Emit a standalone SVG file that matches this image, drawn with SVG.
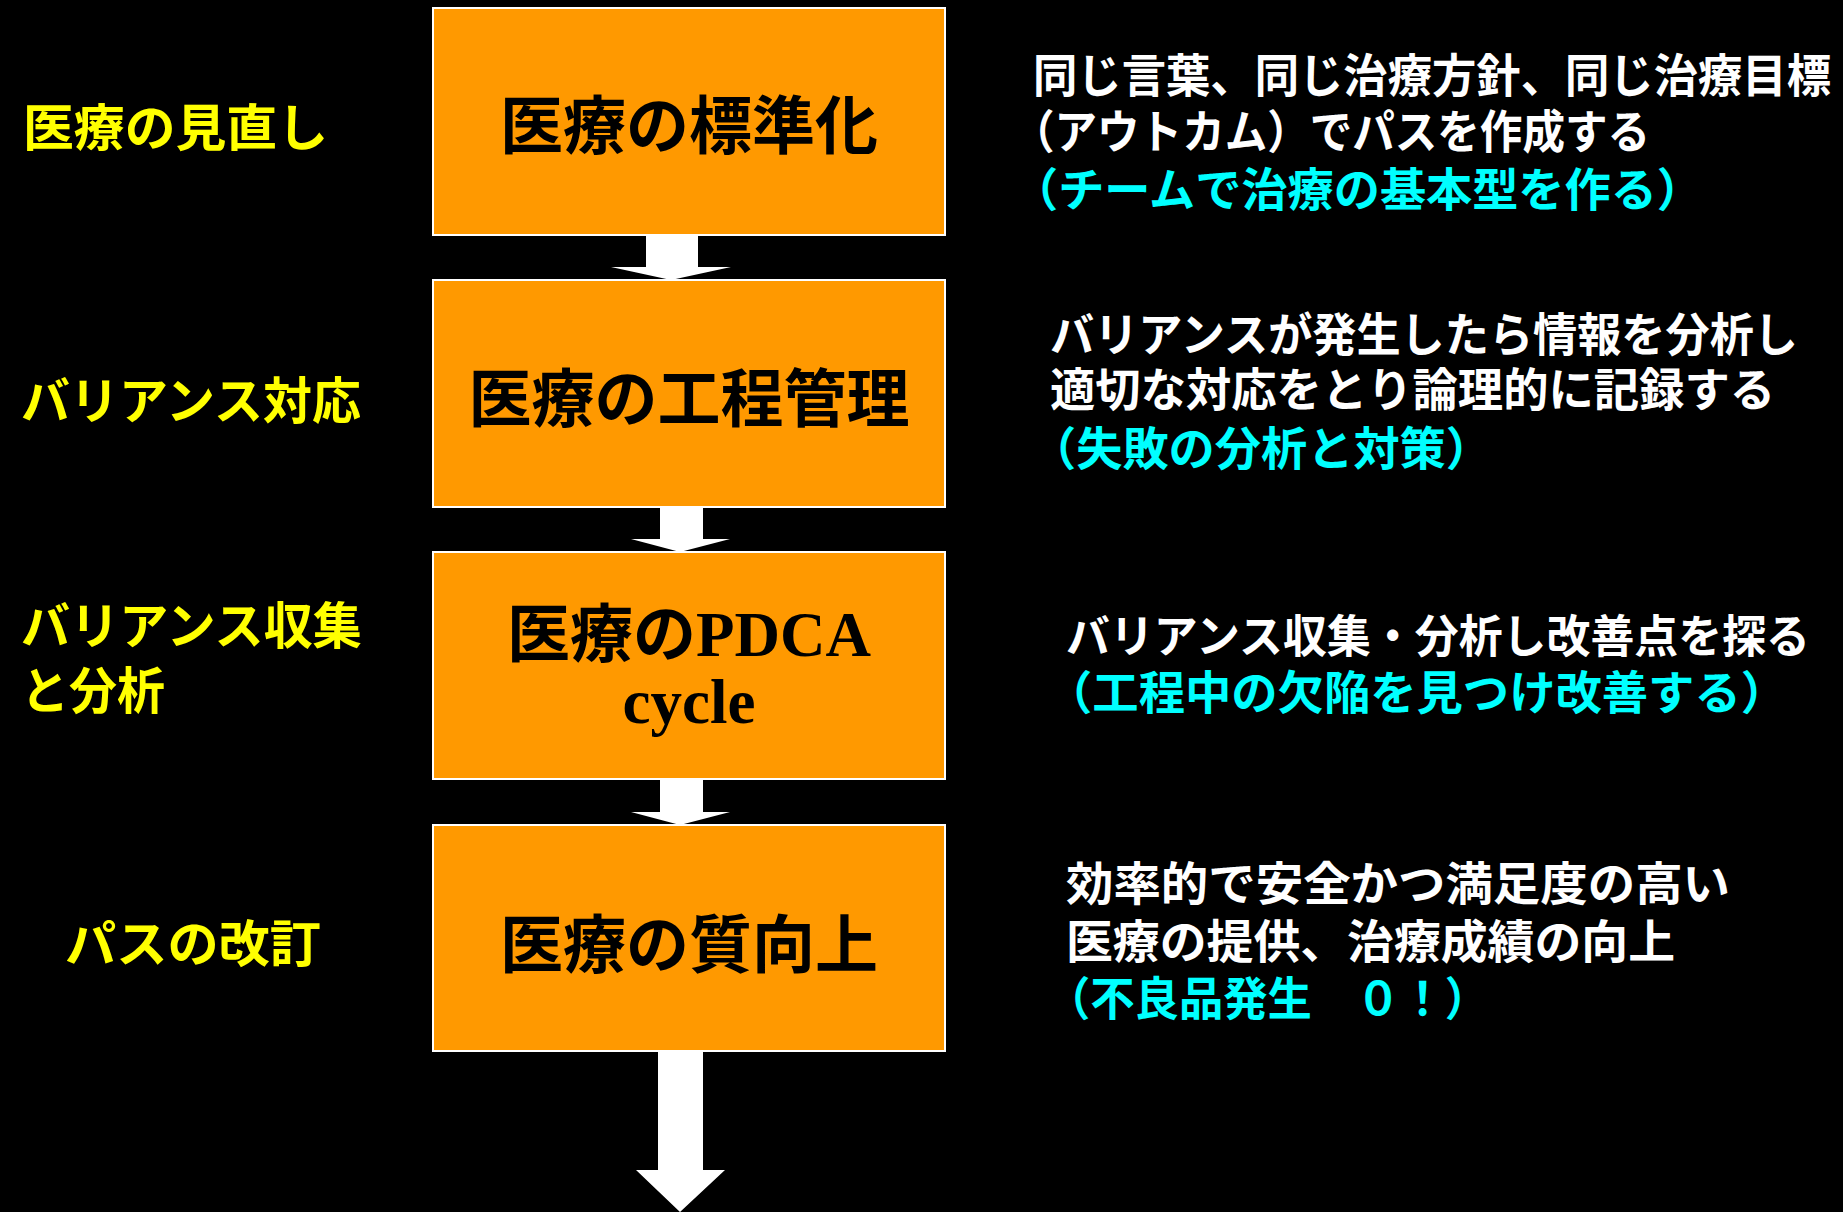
<svg xmlns="http://www.w3.org/2000/svg" width="1843" height="1212" viewBox="0 0 1843 1212">
<style>
.box{fill:#FF9900;stroke:#FFFFFF;stroke-width:2}
.bt{font-family:"Liberation Serif","Noto Sans CJK JP",serif;font-weight:bold;font-size:63px;fill:#000;text-anchor:middle}
.lt{font-family:"Noto Sans CJK JP",sans-serif;font-weight:bold;font-size:50px;fill:#FFFF00}
.rt{font-family:"Noto Sans CJK JP",sans-serif;font-weight:bold;font-size:46px;fill:#FFFFFF}
.ct{fill:#00FFFF}
.arr{fill:#FFFFFF}
</style>
<rect width="1843" height="1212" fill="#000"/>
<g id="connectors">
<polygon class="arr" points="646,235 698,235 698,267 731,267 671,280 611,267 646,267"/>
<polygon class="arr" points="660,507 703,507 703,539 730,539 680,552 631,539 660,539"/>
<polygon class="arr" points="660,779 703,779 703,812 730,812 680,825 631,812 660,812"/>
<polygon class="arr" points="658,1051 703,1051 703,1170 725,1170 680,1212 636,1170 658,1170"/>
</g>
<g id="node1">
<rect class="box" x="433" y="8" width="512" height="227"/>
<text class="bt" x="689" y="148">医療の標準化</text>
</g>
<g id="node2">
<rect class="box" x="433" y="280" width="512" height="227"/>
<text class="bt" x="689" y="421">医療の工程管理</text>
</g>
<g id="node3">
<rect class="box" x="433" y="552" width="512" height="227"/>
<text class="bt" x="689" y="656">医療のPDCA</text>
<text class="bt" x="689" y="723">cycle</text>
</g>
<g id="node4">
<rect class="box" x="433" y="825" width="512" height="226"/>
<text class="bt" x="689" y="967">医療の質向上</text>
</g>
<g id="left-labels">
<text class="lt" x="23" y="146" textLength="305" lengthAdjust="spacingAndGlyphs">医療の見直し</text>
<text class="lt" x="21" y="419" textLength="340" lengthAdjust="spacingAndGlyphs">バリアンス対応</text>
<text class="lt" x="21" y="644" textLength="341" lengthAdjust="spacingAndGlyphs">バリアンス収集</text>
<text class="lt" x="21" y="709" textLength="144" lengthAdjust="spacingAndGlyphs">と分析</text>
<text class="lt" x="65" y="962" textLength="256" lengthAdjust="spacingAndGlyphs">パスの改訂</text>
</g>
<g id="right-notes">
<text class="rt" x="1033" y="92" textLength="798" lengthAdjust="spacingAndGlyphs">同じ言葉、同じ治療方針、同じ治療目標</text>
<text class="rt" x="1012" y="148" textLength="638" lengthAdjust="spacingAndGlyphs">（アウトカム）でパスを作成する</text>
<text class="rt ct" x="1012" y="206" textLength="691" lengthAdjust="spacingAndGlyphs">（チームで治療の基本型を作る）</text>
<text class="rt" x="1050" y="351" textLength="748" lengthAdjust="spacingAndGlyphs">バリアンスが発生したら情報を分析し</text>
<text class="rt" x="1050" y="406" textLength="725" lengthAdjust="spacingAndGlyphs">適切な対応をとり論理的に記録する</text>
<text class="rt ct" x="1030" y="465" textLength="462" lengthAdjust="spacingAndGlyphs">（失敗の分析と対策）</text>
<text class="rt" x="1066" y="653" textLength="744" lengthAdjust="spacingAndGlyphs" style="font-size:45px">バリアンス収集・分析し改善点を探る</text>
<text class="rt ct" x="1046" y="709" textLength="741" lengthAdjust="spacingAndGlyphs">（工程中の欠陥を見つけ改善する）</text>
<text class="rt" x="1066" y="900" textLength="664" lengthAdjust="spacingAndGlyphs">効率的で安全かつ満足度の高い</text>
<text class="rt" x="1066" y="958" textLength="609" lengthAdjust="spacingAndGlyphs">医療の提供、治療成績の向上</text>
<text class="rt ct" x="1046" y="1015" textLength="443" lengthAdjust="spacingAndGlyphs">（不良品発生　０！）</text>
</g>
</svg>
